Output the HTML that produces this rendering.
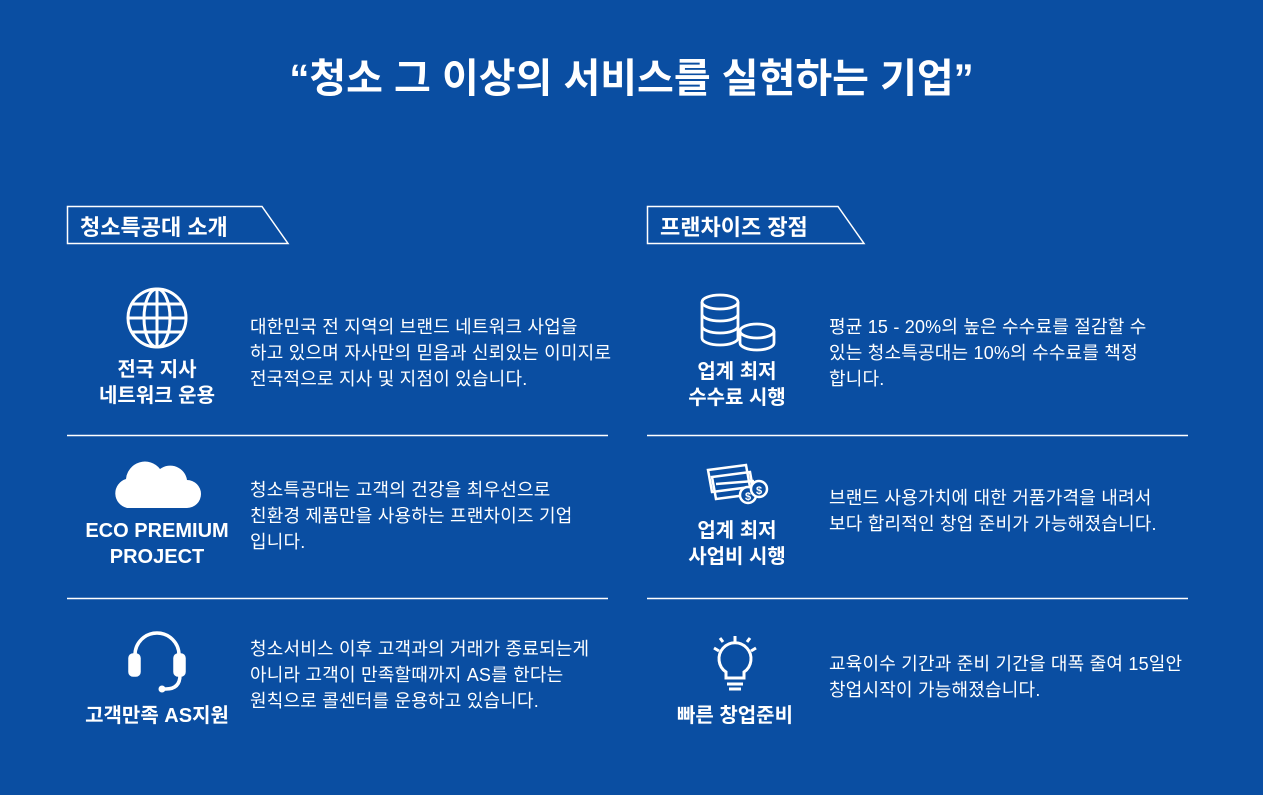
<!DOCTYPE html><html><head><meta charset="utf-8"><style>
body{margin:0;width:1263px;height:795px;background:#0a4ea2;position:relative;overflow:hidden;font-family:"Liberation Sans","Noto Sans CJK KR",sans-serif;color:#fff}
.a{position:absolute}
.t{font-size:18px;letter-spacing:0.2px;line-height:26px;white-space:nowrap}
.l{font-size:20px;font-weight:bold;line-height:26px;text-align:center;width:200px;white-space:nowrap}
.h{font-size:22px;font-weight:bold}
</style></head><body>
<div class="a" style="left:0;width:1263px;top:46px;text-align:center;font-size:40px;font-weight:bold">“청소 그 이상의 서비스를 실현하는 기업”</div>
<svg class="a" style="left:0;top:0" width="1263" height="795" fill="none" stroke="#fff">
<path d="M67.5 206.5H262l26 37H67.5Z" stroke-width="1.5"/>
<path d="M647.5 206.5H838l26 37H647.5Z" stroke-width="1.5"/>
<path d="M67 435.5H608M67 598.5H608M647 435.5H1188M647 598.5H1188" stroke-width="1.5"/>
<g stroke-width="3"><circle cx="157" cy="318" r="29"/><ellipse cx="157" cy="318" rx="13" ry="29"/><path d="M157 289v58M128 318h58M132 304h50M132 332h50"/></g>
<path d="M127 508h60a14 14 0 0 0 0-28a17 17 0 0 0-27-11a19 19 0 0 0-34 10a15 15 0 0 0 1 29z" fill="#fff" stroke="none"/>
<g stroke-width="3.5"><path d="M135 665v-10a22 22 0 0 1 44 0v10"/><rect x="130" y="655" width="9" height="20" rx="3" fill="#fff"/><rect x="175" y="655" width="9" height="20" rx="3" fill="#fff"/><path d="M180 675q0 14-14 14h-3"/></g>
<circle cx="162" cy="689" r="3" fill="#fff"/>
<g stroke-width="2.8"><ellipse cx="720" cy="302" rx="18" ry="7"/><path d="M702 302v36M738 302v36M702 314a18 7 0 0 0 36 0M702 326a18 7 0 0 0 36 0M702 338a18 7 0 0 0 36 0"/>
<ellipse cx="757" cy="331" rx="17" ry="7"/><path d="M740 331v12a17 7 0 0 0 34 0v-12"/></g>
<g stroke-width="2.5"><path d="M708 470l38-5 4 22-38 5z"/><path d="M712 477l38-5 4 22-38 5z"/><path d="M716 484l38-3" /><circle cx="748" cy="495" r="8" fill="#0a4ea2"/><circle cx="759" cy="489" r="8" fill="#0a4ea2"/></g>
<text x="748" y="500" font-size="11" fill="#fff" stroke="none" text-anchor="middle" font-weight="bold">$</text>
<text x="759" y="494" font-size="11" fill="#fff" stroke="none" text-anchor="middle" font-weight="bold">$</text>
<g stroke-width="3"><path d="M726 678v-6a16 16 0 1 1 18 0v6zM727 684h16M729 689h12"/><path d="M735 636v6M714 648l5 3M756 648l-5 3M720 638l3 4M750 638l-3 4"/></g>
</svg>
<div class="a h" style="left:80px;top:210px">청소특공대 소개</div>
<div class="a h" style="left:660px;top:210px">프랜차이즈 장점</div>
<div class="a l" style="left:57px;top:357px">전국 지사<br>네트워크 운용</div>
<div class="a l" style="left:57px;top:518px">ECO PREMIUM<br>PROJECT</div>
<div class="a l" style="left:57px;top:703px">고객만족 AS지원</div>
<div class="a l" style="left:637px;top:359px">업계 최저<br>수수료 시행</div>
<div class="a l" style="left:637px;top:518px">업계 최저<br>사업비 시행</div>
<div class="a l" style="left:635px;top:703px">빠른 창업준비</div>
<div class="a t" style="left:250px;top:314px">대한민국 전 지역의 브랜드 네트워크 사업을<br>하고 있으며 자사만의 믿음과 신뢰있는 이미지로<br>전국적으로 지사 및 지점이 있습니다.</div>
<div class="a t" style="left:250px;top:477px">청소특공대는 고객의 건강을 최우선으로<br>친환경 제품만을 사용하는 프랜차이즈 기업<br>입니다.</div>
<div class="a t" style="left:250px;top:636px">청소서비스 이후 고객과의 거래가 종료되는게<br>아니라 고객이 만족할때까지 AS를 한다는<br>원칙으로 콜센터를 운용하고 있습니다.</div>
<div class="a t" style="left:829px;top:314px">평균 15 - 20%의 높은 수수료를 절감할 수<br>있는 청소특공대는 10%의 수수료를 책정<br>합니다.</div>
<div class="a t" style="left:829px;top:485px">브랜드 사용가치에 대한 거품가격을 내려서<br>보다 합리적인 창업 준비가 가능해졌습니다.</div>
<div class="a t" style="left:829px;top:651px">교육이수 기간과 준비 기간을 대폭 줄여 15일안<br>창업시작이 가능해졌습니다.</div>
</body></html>
